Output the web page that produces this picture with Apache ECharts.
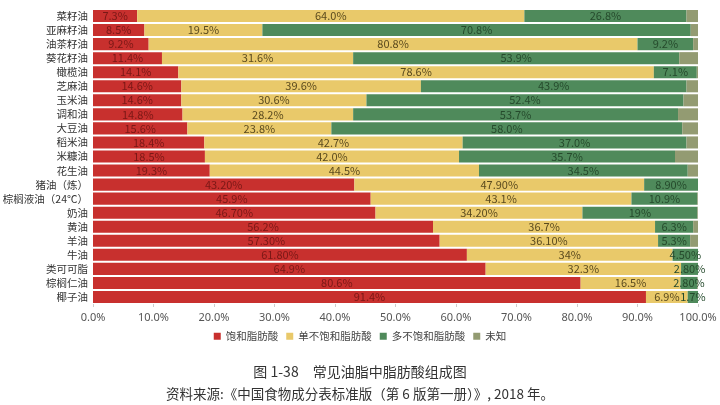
<!DOCTYPE html>
<html><head><meta charset="utf-8">
<script src="https://cdn.jsdelivr.net/npm/echarts@6/dist/echarts.min.js"></script>
<style>html,body{margin:0;padding:0;background:#fff}#c{width:720px;height:405px}</style>
</head><body><div id="c"></div>
<script>
var categories = ['菜籽油','亚麻籽油','油茶籽油','葵花籽油','橄榄油','芝麻油','玉米油','调和油','大豆油','稻米油','米糠油','花生油','猪油（炼）','棕榈液油（24℃）','奶油','黄油','羊油','牛油','类可可脂','棕榈仁油','椰子油'];
var saturated = [7.3,8.5,9.2,11.4,14.1,14.6,14.6,14.8,15.6,18.4,18.5,19.3,43.2,45.9,46.7,56.2,57.3,61.8,64.9,80.6,91.4];
var saturatedLabels = ['7.3%','8.5%','9.2%','11.4%','14.1%','14.6%','14.6%','14.8%','15.6%','18.4%','18.5%','19.3%','43.20%','45.9%','46.70%','56.2%','57.30%','61.80%','64.9%','80.6%','91.4%'];
var mono = [64.0,19.5,80.8,31.6,78.6,39.6,30.6,28.2,23.8,42.7,42.0,44.5,47.9,43.1,34.2,36.7,36.1,34,32.3,16.5,6.9];
var monoLabels = ['64.0%','19.5%','80.8%','31.6%','78.6%','39.6%','30.6%','28.2%','23.8%','42.7%','42.0%','44.5%','47.90%','43.1%','34.20%','36.7%','36.10%','34%','32.3%','16.5%','6.9%'];
var poly = [26.8,70.8,9.2,53.9,7.1,43.9,52.4,53.7,58.0,37.0,35.7,34.5,8.9,10.9,19,6.3,5.3,4.5,2.8,2.8,1.7];
var polyLabels = ['26.8%','70.8%','9.2%','53.9%','7.1%','43.9%','52.4%','53.7%','58.0%','37.0%','35.7%','34.5%','8.90%','10.9%','19%','6.3%','5.3%','4.50%','2.80%','2.80%','1.7%'];
var unknown = [1.9,1.2,0.8,3.1,0.2,1.9,2.4,3.3,2.6,1.9,3.8,1.7,0,0.1,0.1,0.8,1.3,0,0,0.1,0];
var xTicks = [0,10,20,30,40,50,60,70,80,90,100];
var seriesNames = ['饱和脂肪酸','单不饱和脂肪酸','多不饱和脂肪酸','未知'];

var chart = echarts.init(document.getElementById('c'));
function mk(name, data, labels, color, textColor) {
  return {
    name: name, type: 'bar', stack: 'all', data: data,
    barCategoryGap: '14%',
    itemStyle: { color: color },
    label: labels ? {
      show: true, position: 'inside', fontSize: 11, color: textColor,
      fontFamily: 'Noto Sans CJK SC',
      formatter: function (p) { return labels[p.dataIndex]; }
    } : { show: false }
  };
}
chart.setOption({
  animation: false,
  backgroundColor: '#fff',
  grid: { left: 93, right: 22, top: 9, bottom: 101, containLabel: false, outerBoundsMode: 'none' },
  legend: {
    data: seriesNames, top: 326, left: 'center', itemWidth: 7, itemHeight: 7, itemGap: 8,
    icon: 'rect', textStyle: { fontSize: 10.5, color: '#444', fontFamily: 'Noto Sans CJK SC' }
  },
  title: [
    { text: '图 1-38　常见油脂中脂肪酸组成图', left: 'center', top: 360,
      textStyle: { fontSize: 14, fontWeight: 'normal', color: '#333', fontFamily: 'Noto Sans CJK SC' } },
    { text: '资料来源:《中国食物成分表标准版（第 6 版第一册）》, 2018 年。', left: 'center', top: 382,
      textStyle: { fontSize: 13.5, fontWeight: 'normal', color: '#333', fontFamily: 'Noto Sans CJK SC' } }
  ],
  xAxis: {
    type: 'value', min: xTicks[0], max: xTicks[xTicks.length - 1], interval: 10,
    axisLine: { show: false },
    axisTick: { show: true, length: 3, lineStyle: { color: '#ccc' } },
    splitLine: { show: false },
    axisLabel: { fontSize: 11, color: '#555', margin: 8, fontFamily: 'Noto Sans',
      formatter: function (v) { return v.toFixed(1) + '%'; } }
  },
  yAxis: {
    type: 'category', data: categories, inverse: true,
    axisLine: { show: false }, axisTick: { show: false },
    axisLabel: { interval: 0, hideOverlap: false, fontSize: 10.5, color: '#333', margin: 5, fontFamily: 'Noto Sans CJK SC' }
  },
  series: [
    mk(seriesNames[0], saturated, saturatedLabels, '#c8302e', '#7a1816'),
    mk(seriesNames[1], mono, monoLabels, '#e9c96a', '#5a4a1e'),
    mk(seriesNames[2], poly, polyLabels, '#4f8a5b', '#254a2c'),
    mk(seriesNames[3], unknown, null, '#939b72', '#333')
  ]
});
</script></body></html>
